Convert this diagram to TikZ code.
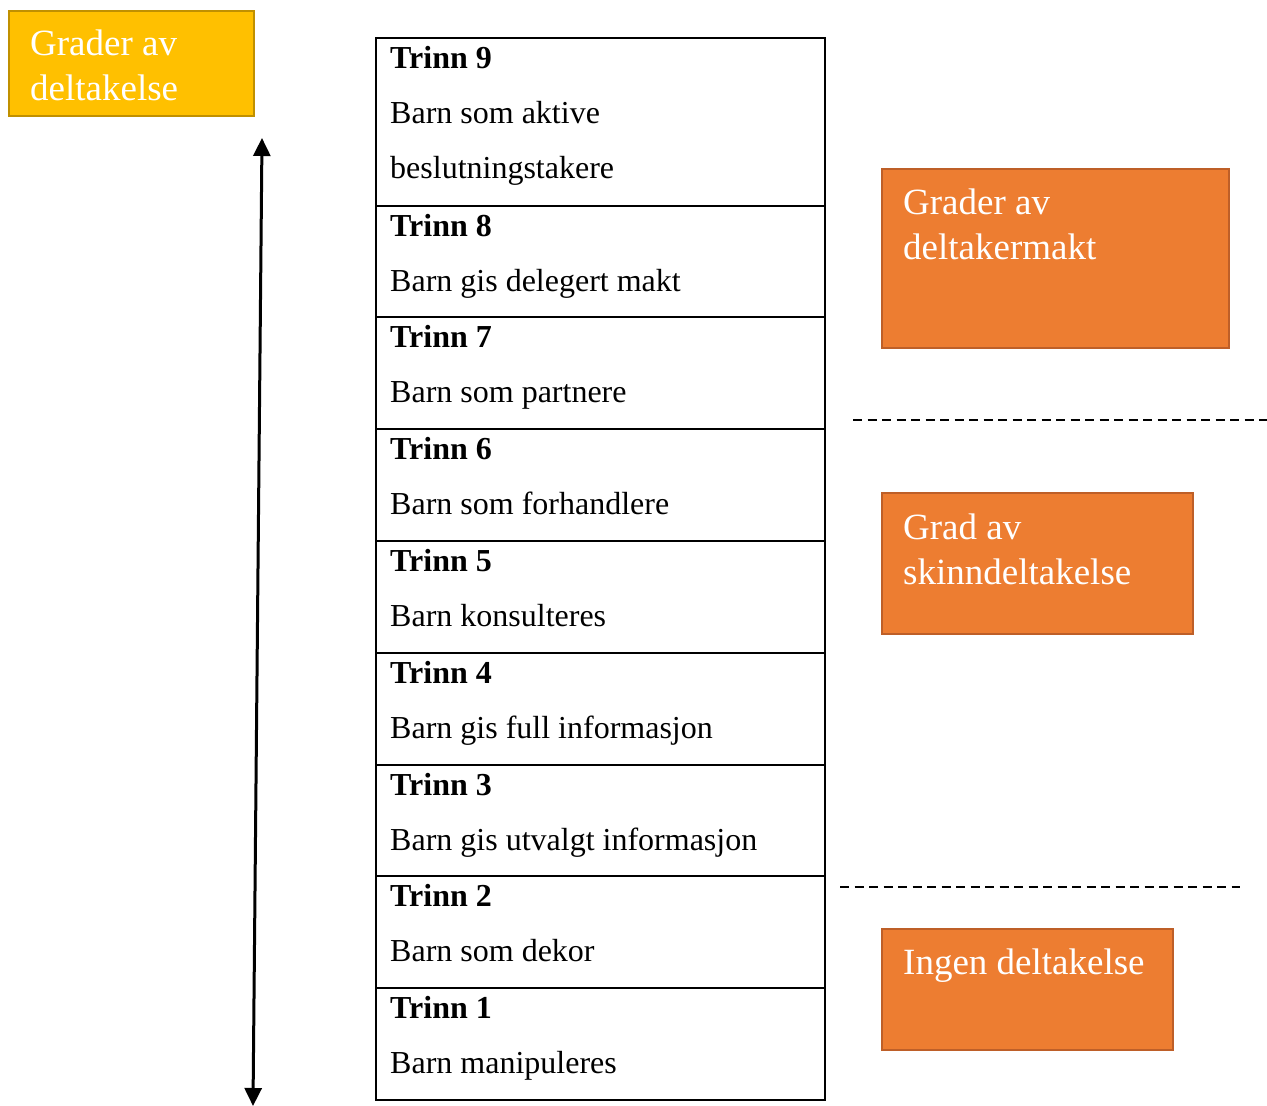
\documentclass[tikz,border=0pt]{standalone}
\usepackage{fontspec}
\setmainfont{Liberation Serif}
\usetikzlibrary{arrows.meta,positioning,calc}
\definecolor{gold}{HTML}{FFC000}
\definecolor{goldline}{HTML}{C09000}
\definecolor{orng}{HTML}{ED7D31}
\definecolor{orngline}{HTML}{BE5F28}
\tikzset{
  rowbox/.style={draw=black,line width=2pt,minimum width=449pt,minimum height=112pt,anchor=north west,inner sep=0pt},
  ttl/.style={anchor=base west,inner sep=0pt,font=\fontsize{32}{38}\selectfont\bfseries},
  txt/.style={anchor=base west,inner sep=0pt,font=\fontsize{32}{38}\selectfont},
  yellowbox/.style={draw=goldline,fill=gold,line width=2pt,anchor=north west,inner sep=0pt},
  orangebox/.style={draw=orngline,fill=orng,line width=2pt,anchor=north west,inner sep=0pt},
  boxtxt/.style={anchor=base west,inner sep=0pt,text=white,font=\fontsize{37}{45}\selectfont},
  sep/.style={dashed,dash pattern=on 9pt off 5.5pt,line width=1.6pt},
  bigarrow/.style={{Triangle[length=18pt,width=17pt]}-{Triangle[length=18pt,width=17pt]},line width=3pt}
}
\begin{document}
\begin{tikzpicture}[x=1pt,y=-1pt]
\useasboundingbox (0,0) rectangle (1267,1106);

% yellow header box
\node[yellowbox,minimum width=245pt,minimum height=105pt] (yb) at (8,10) {};
\node[boxtxt] (yb1) at ($(yb.north west)+(22,45)$) {Grader av};
\node[boxtxt] (yb2) at ($(yb.north west)+(22,90)$) {deltakelse};

% double arrow
\coordinate (atop) at (262,138);
\coordinate (abot) at (253,1106);
\draw[bigarrow] (abot) -- (atop);

% table rows
\node[rowbox,minimum height=168pt] (r9) at (375,37) {};
\node[ttl] (t9) at ($(r9.north west)+(15,31)$) {Trinn 9};
\node[txt] (d9a) at ($(r9.north west)+(15,86)$) {Barn som aktive};
\node[txt] (d9b) at ($(r9.north west)+(15,141)$) {beslutningstakere};

\node[rowbox,minimum height=111pt] (r8) at (375,205) {};
\node[ttl] (t8) at ($(r8.north west)+(15,31)$) {Trinn 8};
\node[txt] (d8) at ($(r8.north west)+(15,86)$) {Barn gis delegert makt};

\node[rowbox] (r7) at (375,316) {};
\node[ttl] (t7) at ($(r7.north west)+(15,31)$) {Trinn 7};
\node[txt] (d7) at ($(r7.north west)+(15,86)$) {Barn som partnere};

\node[rowbox] (r6) at (375,428) {};
\node[ttl] (t6) at ($(r6.north west)+(15,31)$) {Trinn 6};
\node[txt] (d6) at ($(r6.north west)+(15,86)$) {Barn som forhandlere};

\node[rowbox] (r5) at (375,540) {};
\node[ttl] (t5) at ($(r5.north west)+(15,31)$) {Trinn 5};
\node[txt] (d5) at ($(r5.north west)+(15,86)$) {Barn konsulteres};

\node[rowbox] (r4) at (375,652) {};
\node[ttl] (t4) at ($(r4.north west)+(15,31)$) {Trinn 4};
\node[txt] (d4) at ($(r4.north west)+(15,86)$) {Barn gis full informasjon};

\node[rowbox,minimum height=111pt] (r3) at (375,764) {};
\node[ttl] (t3) at ($(r3.north west)+(15,31)$) {Trinn 3};
\node[txt] (d3) at ($(r3.north west)+(15,86)$) {Barn gis utvalgt informasjon};

\node[rowbox] (r2) at (375,875) {};
\node[ttl] (t2) at ($(r2.north west)+(15,31)$) {Trinn 2};
\node[txt] (d2) at ($(r2.north west)+(15,86)$) {Barn som dekor};

\node[rowbox] (r1) at (375,987) {};
\node[ttl] (t1) at ($(r1.north west)+(15,31)$) {Trinn 1};
\node[txt] (d1) at ($(r1.north west)+(15,86)$) {Barn manipuleres};

% orange boxes
\node[orangebox,minimum width=347pt,minimum height=179pt] (ob1) at (881,168) {};
\node[boxtxt] (ob1a) at ($(ob1.north west)+(22,46)$) {Grader av};
\node[boxtxt] (ob1b) at ($(ob1.north west)+(22,91)$) {deltakermakt};

\node[orangebox,minimum width=311pt,minimum height=141pt] (ob2) at (881,492) {};
\node[boxtxt] (ob2a) at ($(ob2.north west)+(22,47)$) {Grad av};
\node[boxtxt] (ob2b) at ($(ob2.north west)+(22,92)$) {skinndeltakelse};

\node[orangebox,minimum width=291pt,minimum height=121pt] (ob3) at (881,928) {};
\node[boxtxt] (ob3a) at ($(ob3.north west)+(22,46)$) {Ingen deltakelse};

% dashed separators
\coordinate (s1a) at (853,420);
\coordinate (s1b) at (1267,420);
\draw[sep] (s1a) -- (s1b);
\coordinate (s2a) at (840,887);
\coordinate (s2b) at (1240,887);
\draw[sep] (s2a) -- (s2b);
\end{tikzpicture}
\end{document}
